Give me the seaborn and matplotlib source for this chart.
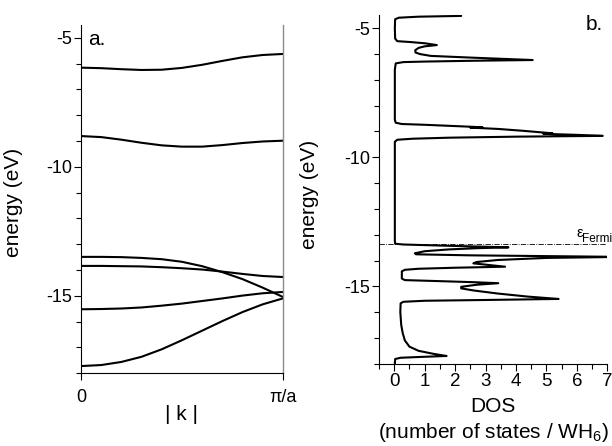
import matplotlib

matplotlib.use("Agg")
import matplotlib.pyplot as plt
import pandas as pd
import seaborn as sns
from matplotlib.ticker import MultipleLocator


# band structure, k as fraction of pi/a
K_POINTS = [0.0, 0.1, 0.2, 0.3, 0.4, 0.5, 0.6, 0.7, 0.8, 0.9, 1.0]
BAND_1 = [-6.16, -6.18, -6.22, -6.25, -6.24, -6.17, -6.05, -5.90, -5.76, -5.67, -5.63]
BAND_2 = [-8.81, -8.85, -8.95, -9.07, -9.17, -9.22, -9.22, -9.16, -9.08, -9.02, -8.99]
BAND_3 = [-13.49, -13.49, -13.50, -13.53, -13.58, -13.68, -13.85, -14.08, -14.35, -14.68, -15.04]
BAND_4 = [-13.84, -13.84, -13.85, -13.86, -13.89, -13.93, -13.98, -14.06, -14.15, -14.23, -14.27]
BAND_5 = [-15.52, -15.51, -15.49, -15.45, -15.38, -15.30, -15.20, -15.10, -14.99, -14.90, -14.85]
BAND_6 = [-17.72, -17.68, -17.56, -17.36, -17.07, -16.72, -16.35, -15.98, -15.63, -15.33, -15.10]
BANDS = [BAND_1, BAND_2, BAND_3, BAND_4, BAND_5, BAND_6]

# density of states traced top to bottom
DOS_ENERGY = [
    -4.52, -4.55, -4.59, -4.65, -5.00, -5.40, -5.50, -5.53, -5.58, -5.65,
    -5.70, -5.76, -5.85, -5.94, -6.00, -6.07, -6.14, -6.23, -6.26, -6.29,
    -6.31, -6.36, -6.60, -8.55, -8.66, -8.71, -8.74, -8.79, -8.82, -8.84,
    -8.85, -8.90, -8.97, -9.04, -9.07, -9.09, -9.13, -9.17, -9.20, -9.24,
    -9.28, -9.32, -9.40, -13.25, -13.35, -13.38, -13.42, -13.46, -13.49, -13.52,
    -13.57, -13.64, -13.72, -13.76, -13.80, -13.83, -13.86, -13.90, -13.98, -14.06,
    -14.11, -14.16, -14.24, -14.28, -14.32, -14.36, -14.42, -14.70, -14.76, -14.80,
    -14.84, -14.88, -14.94, -15.02, -15.08, -15.16, -15.28, -15.40, -15.49, -15.53,
    -15.56, -15.60, -15.66, -16.00, -16.50, -16.82, -17.10, -17.34, -17.50, -17.62,
    -17.70, -17.74, -17.77, -17.82, -18.00,
]
DOS_VALUE = [
    2.2, 0.8, 0.15, 0.03, 0.02, 0.03, 0.10, 0.5, 1.0, 1.4,
    1.0, 0.80, 0.69, 0.70, 0.85, 1.2, 2.6, 4.55, 2.5, 1.0,
    0.3, 0.05, 0.02, 0.02, 0.05, 0.25, 1.0, 2.0, 2.6, 2.9,
    2.5, 3.4, 4.2, 4.9, 5.2, 4.9, 6.0, 6.85, 4.0, 1.8,
    0.6, 0.1, 0.02, 0.02, 0.03, 0.3, 1.5, 2.8, 3.75, 2.8,
    1.8, 1.0, 0.68, 0.72, 2.5, 5.0, 7.5, 5.0, 3.4, 2.7,
    2.6, 3.0, 3.64, 2.0, 0.8, 0.35, 0.25, 0.25, 0.35, 1.5,
    2.6, 3.42, 2.7, 2.2, 2.2, 2.6, 3.4, 4.4, 5.4, 3.0,
    1.0, 0.3, 0.21, 0.20, 0.23, 0.28, 0.35, 0.5, 0.8, 1.3,
    1.72, 0.8, 0.2, 0.03, 0.02,
]

FERMI_LEVEL = -13.35
Y_TICKS = [-5, -10, -15]
DOS_TICKS = [0, 1, 2, 3, 4, 5, 6, 7]

FONT = "Liberation Sans"


def build_band_frame():
    rows = []
    for band_id, energies in enumerate(BANDS):
        for k, e in zip(K_POINTS, energies):
            rows.append({"band": band_id, "k": k, "energy": e})
    return pd.DataFrame(rows)


def style_energy_axis(ax):
    ax.set_ylim(-18, -4.5)
    ax.set_yticks(Y_TICKS)
    ax.set_yticklabels([str(t) for t in Y_TICKS])
    ax.yaxis.set_minor_locator(MultipleLocator(1))
    ax.tick_params(axis="y", which="both", direction="out", labelsize=13, pad=1.5)
    ax.tick_params(axis="y", which="major", length=5, width=0.8)
    ax.tick_params(axis="y", which="minor", length=3.5, width=0.8)
    ax.set_ylabel("energy (eV)", fontsize=15)


sns.set_theme(
    style="ticks",
    rc={
        "text.color": "black",
        "axes.labelcolor": "black",
        "axes.edgecolor": "black",
        "xtick.color": "black",
        "ytick.color": "black",
    },
)
plt.rcParams["font.family"] = [FONT, "DejaVu Sans"]
plt.rcParams["mathtext.fontset"] = "custom"
plt.rcParams["mathtext.rm"] = FONT
plt.rcParams["mathtext.it"] = FONT + ":italic"
plt.rcParams["axes.unicode_minus"] = False
plt.rcParams["axes.linewidth"] = 0.8

fig = plt.figure(figsize=(6.12, 4.46), dpi=100)
ax_a = fig.add_axes([0.1324, 0.163, 0.3296, 0.7814])
ax_b = fig.add_axes([0.6193, 0.1845, 0.373, 0.781])

# panel a: band structure
bands = build_band_frame()
sns.lineplot(
    data=bands, x="k", y="energy", units="band", estimator=None,
    color="black", linewidth=1.5, ax=ax_a, legend=False,
)
ax_a.set_xlim(0, 1)
ax_a.set_xticks([0, 1])
ax_a.set_xticklabels(["0", "π/a"])
ax_a.tick_params(axis="x", direction="out", length=5, width=0.8, labelsize=13, pad=6)
ax_a.set_xlabel("| k |", fontsize=15)
ax_a.xaxis.set_label_coords(0.5, -0.09)
style_energy_axis(ax_a)
ax_a.yaxis.set_label_coords(-0.29, 0.49)
ax_a.spines["top"].set_visible(False)
ax_a.spines["right"].set_color("#8c8c8c")
ax_a.spines["right"].set_linewidth(1.0)
ax_a.text(0.035, -5.28, "a.", fontsize=15, va="baseline", ha="left")

# panel b: density of states
dos = pd.DataFrame({"dos": DOS_VALUE, "energy": DOS_ENERGY})
sns.lineplot(
    data=dos, x="dos", y="energy", sort=False, estimator=None,
    color="black", linewidth=1.5, ax=ax_b, legend=False,
)
ax_b.axhline(FERMI_LEVEL, color="black", linestyle="-.", linewidth=0.6)
ax_b.set_xlim(-0.5, 7)
ax_b.set_xticks(DOS_TICKS)
ax_b.xaxis.set_minor_locator(MultipleLocator(0.5))
ax_b.tick_params(axis="x", which="both", direction="out", labelsize=13.5, pad=2)
ax_b.tick_params(axis="x", which="major", length=5, width=0.8)
ax_b.tick_params(axis="x", which="minor", length=3.5, width=0.8)
ax_b.set_xlabel("DOS\n(number of states / WH$_6$)", fontsize=15, linespacing=1.3)
ax_b.xaxis.set_label_coords(0.5, -0.095)
style_energy_axis(ax_b)
ax_b.yaxis.set_label_coords(-0.265, 0.485)
ax_b.spines["top"].set_visible(False)
ax_b.spines["right"].set_visible(False)
ax_b.text(6.3, -5.07, "b.", fontsize=15, va="baseline", ha="left")
ax_b.text(5.98, -13.08, "ε", fontsize=10.5, va="baseline", ha="left")
ax_b.text(6.17, -13.30, "Fermi", fontsize=8.5, va="baseline", ha="left")

fig.savefig("out.png", dpi=100)
plt.close(fig)
